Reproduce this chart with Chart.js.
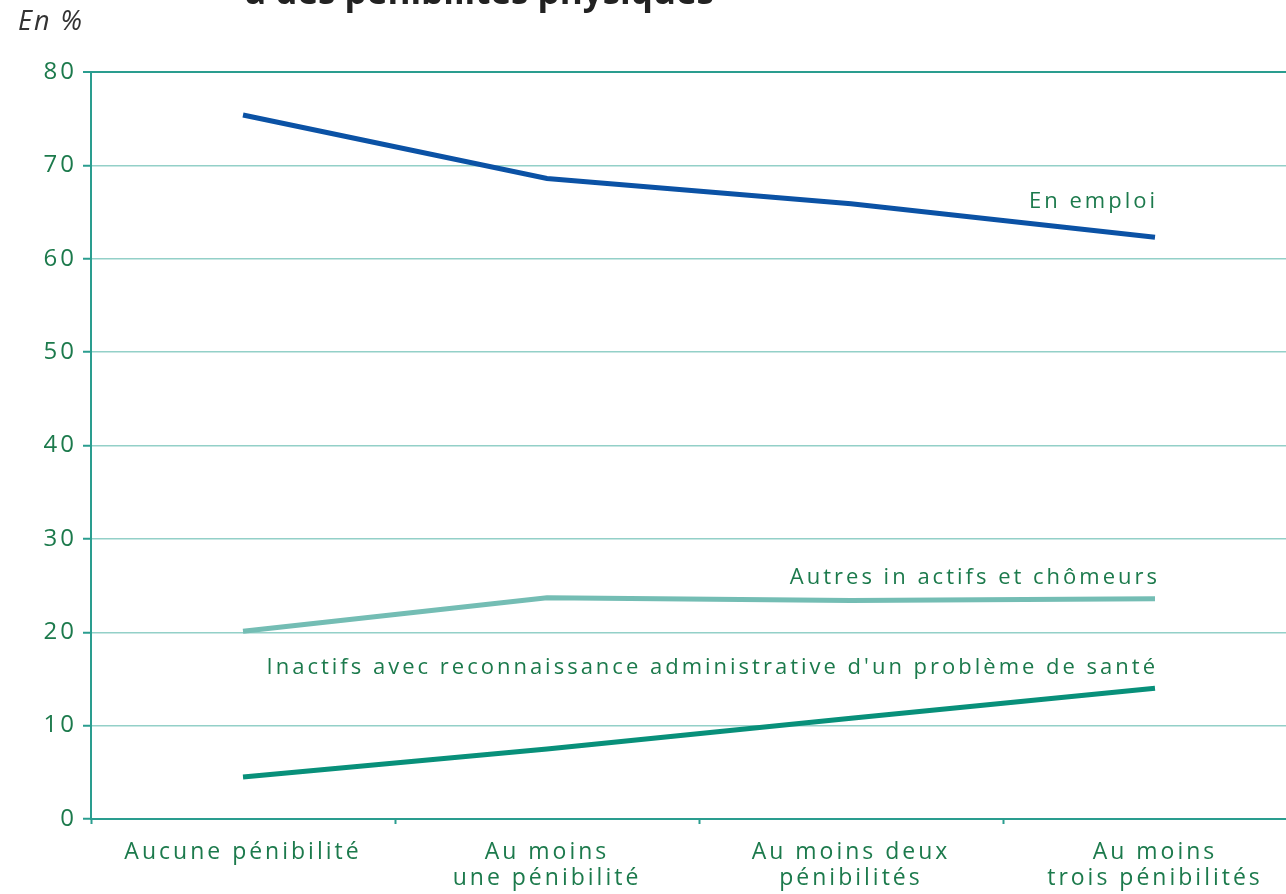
<!DOCTYPE html>
<html>
<head>
<meta charset="utf-8">
<script src="https://cdn.jsdelivr.net/npm/chart.js@4/dist/chart.umd.min.js"></script>
<style>
  html, body { margin: 0; padding: 0; background: #fff; overflow: hidden; }
  #wrap { position: absolute; left: 0; top: 0; width: 1320px; height: 894px; }
</style>
</head>
<body>
<div id="wrap"><canvas id="chart" width="1320" height="894"></canvas></div>
<script>
const categories = [
  'Aucune pénibilité',
  ['Au moins', 'une pénibilité'],
  ['Au moins deux', 'pénibilités'],
  ['Au moins', 'trois pénibilités']
];
const enEmploi = [75.4, 68.6, 65.9, 62.3];
const autresInactifs = [20.1, 23.7, 23.4, 23.6];
const inactifsSante = [4.5, 7.5, 10.8, 14.0];
const yTicks = [0, 10, 20, 30, 40, 50, 60, 70, 80];

const green = '#1c7a4c';
const axisCol = '#2a9d8f';
const gridCol = '#93d0c8';

// text labels drawn next to the lines, plus the clipped title and unit
const labelsPlugin = {
  id: 'labels',
  beforeUpdate(chart) { chart.ctx.letterSpacing = '3px'; },
  beforeDraw(chart) { chart.ctx.letterSpacing = '3px'; },
  afterDraw(chart) {
    const ctx = chart.ctx, x = chart.scales.x, y = chart.scales.y;
    ctx.save();
    ctx.letterSpacing = '0px';
    ctx.fillStyle = '#222';
    ctx.font = 'bold 35px "Open Sans", sans-serif';
    ctx.textBaseline = 'alphabetic';
    ctx.fillText('à des pénibilités physiques', 245, 4);
    ctx.fillStyle = '#333';
    ctx.letterSpacing = '2px';
    ctx.font = 'italic 27px "Open Sans", sans-serif';
    ctx.fillText('En %', 18, 30);

    ctx.letterSpacing = '3px';
    ctx.fillStyle = green;
    ctx.font = '22px "Open Sans", sans-serif';
    ctx.textAlign = 'right';
    ctx.textBaseline = 'middle';
    const xr = x.getPixelForValue(3) + 3;
    ctx.fillText('En emploi', xr, y.getPixelForValue(enEmploi[3]) - 36);
    ctx.fillText('Autres in actifs et chômeurs', xr + 2, y.getPixelForValue(autresInactifs[3]) - 21);
    ctx.fillText("Inactifs avec reconnaissance administrative d'un problème de santé", xr, y.getPixelForValue(inactifsSante[3]) - 21);
    ctx.restore();
  }
};

new Chart(document.getElementById('chart'), {
  type: 'line',
  data: {
    labels: categories,
    datasets: [
      { label: 'En emploi', data: enEmploi, borderColor: '#0b52a5', borderWidth: 5, pointRadius: 0, tension: 0, fill: false },
      { label: 'Autres inactifs et chômeurs', data: autresInactifs, borderColor: '#74bdb4', borderWidth: 5, pointRadius: 0, tension: 0, fill: false },
      { label: "Inactifs avec reconnaissance administrative d'un problème de santé", data: inactifsSante, borderColor: '#08907a', borderWidth: 5, pointRadius: 0, tension: 0, fill: false }
    ]
  },
  options: {
    responsive: false,
    animation: false,
    layout: { padding: { top: 72, right: 13, left: 0, bottom: 0 } },
    plugins: { legend: { display: false }, tooltip: { enabled: false }, title: { display: false } },
    scales: {
      x: {
        offset: true,
        grid: { offset: true, drawOnChartArea: false, drawTicks: true, tickLength: 5, tickColor: axisCol, tickWidth: 2 },
        border: { color: axisCol, width: 2 },
        ticks: { color: green, font: { family: 'Open Sans', size: 23, lineHeight: 1.13 }, padding: 15, maxRotation: 0, autoSkip: false },
        afterFit(s) { s.height = 894 - 819; }
      },
      y: {
        min: 0, max: 80,
        afterBuildTicks(s) { s.ticks = yTicks.map(v => ({ value: v })); },
        grid: {
          color: c => c.tick && c.tick.value === 80 ? axisCol : gridCol,
          lineWidth: c => c.tick && c.tick.value === 80 ? 2 : 1.5,
          tickLength: 8, tickColor: axisCol, tickWidth: 2
        },
        border: { color: axisCol, width: 2 },
        ticks: { color: green, font: { family: 'Open Sans', size: 24 }, padding: 6 },
        afterFit(s) { s.width = 91; }
      }
    }
  },
  plugins: [labelsPlugin]
});
</script>
</body>
</html>
